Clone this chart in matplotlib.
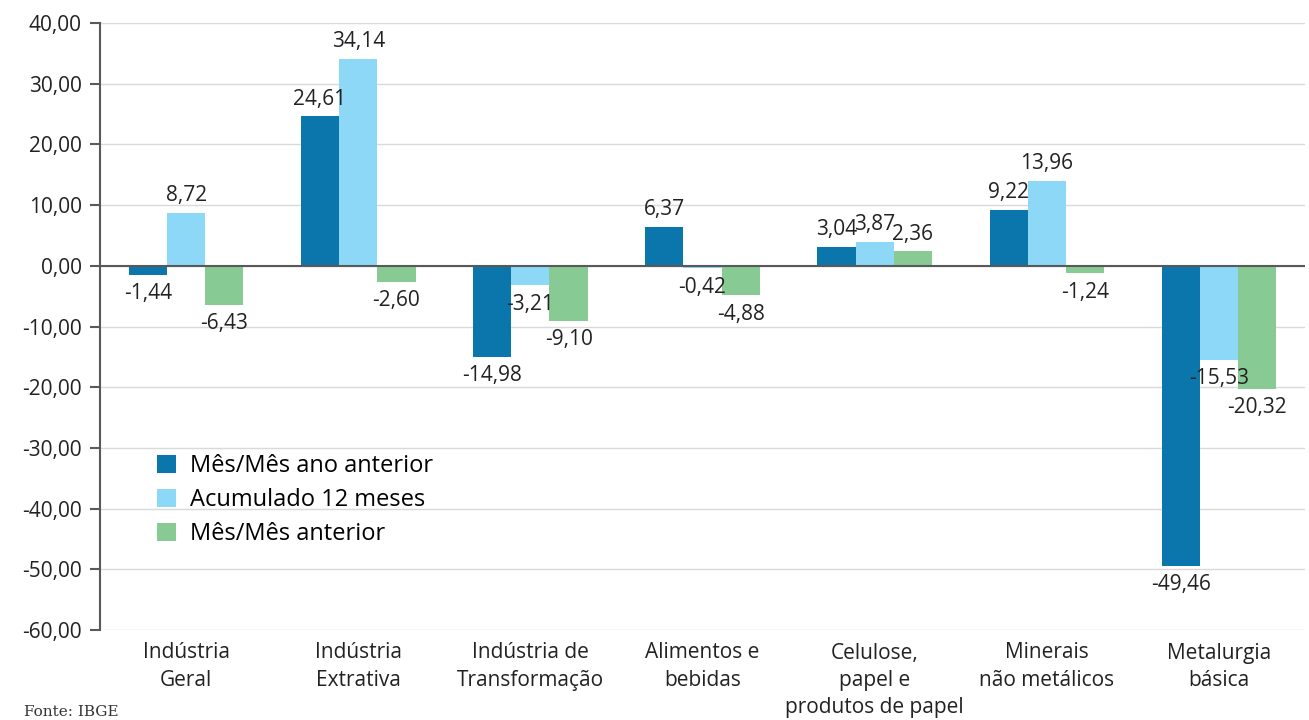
import numpy as np
import matplotlib.pyplot as plt

plt.rcParams['font.family'] = ['Open Sans', 'DejaVu Sans']

categorias = ['Indústria\nGeral', 'Indústria\nExtrativa', 'Indústria de\nTransformação',
              'Alimentos e\nbebidas', 'Celulose,\npapel e\nprodutos de papel',
              'Minerais\nnão metálicos', 'Metalurgia\nbásica']
mes_ano_anterior = [-1.44, 24.61, -14.98, 6.37, 3.04, 9.22, -49.46]
acumulado_12 = [8.72, 34.14, -3.21, -0.42, 3.87, 13.96, -15.53]
mes_anterior = [-6.43, -2.60, -9.10, -4.88, 2.36, -1.24, -20.32]

series = [
    ('Mês/Mês ano anterior', mes_ano_anterior, '#0B76AB'),
    ('Acumulado 12 meses', acumulado_12, '#8DD7F7'),
    ('Mês/Mês anterior', mes_anterior, '#88CA93'),
]

fig = plt.figure(figsize=(13.09, 7.2), dpi=100)
ax = fig.add_axes([0.0764, 0.125, 0.9206, 0.843])

x = np.arange(len(categorias))
w = 0.222
for i, (nome, vals, cor) in enumerate(series):
    pos = x + (i - 1) * w
    bars = ax.bar(pos, vals, w, color=cor, label=nome, zorder=3)
    for b, v in zip(bars, vals):
        txt = f'{v:.2f}'.replace('.', ',')
        if v >= 0:
            ax.annotate(txt, (b.get_x() + b.get_width() / 2, v), xytext=(0, 5),
                        textcoords='offset points', ha='center', va='bottom',
                        fontsize=15, color='#222222', zorder=5)
        else:
            ax.annotate(txt, (b.get_x() + b.get_width() / 2, v), xytext=(0, -6),
                        textcoords='offset points', ha='center', va='top',
                        fontsize=15, color='#222222', zorder=5)

ax.set_ylim(-60, 40)
ax.set_xlim(-0.5, len(categorias) - 0.5)
yt = np.arange(-60, 41, 10)
ax.set_yticks(yt)
ax.set_yticklabels([f'{v:.2f}'.replace('.', ',') for v in yt], fontsize=15, color='#222222')
ax.yaxis.grid(True, color='#D9D9D9', linewidth=1, zorder=0)
ax.axhline(0, color='#595959', linewidth=1.5, zorder=4)

ax.set_xticks(x)
ax.set_xticklabels(categorias, fontsize=15, color='#222222', va='top', linespacing=1.4)
ax.tick_params(axis='x', length=0, pad=9)
ax.tick_params(axis='y', length=7, color='#595959', width=1.5, pad=6)

for s in ['top', 'right', 'bottom']:
    ax.spines[s].set_visible(False)
ax.spines['left'].set_color('#595959')
ax.spines['left'].set_linewidth(1.5)

ax.legend(loc='upper left', bbox_to_anchor=(0.03, 0.325), frameon=False, fontsize=17,
          handlelength=0.8, handleheight=0.8, handletextpad=0.6, labelspacing=0.42)

fig.text(0.018, 0.002, 'Fonte: IBGE', fontsize=11, family='DejaVu Serif',
         color='#333333', va='bottom')

fig.savefig('out.png', dpi=100)
